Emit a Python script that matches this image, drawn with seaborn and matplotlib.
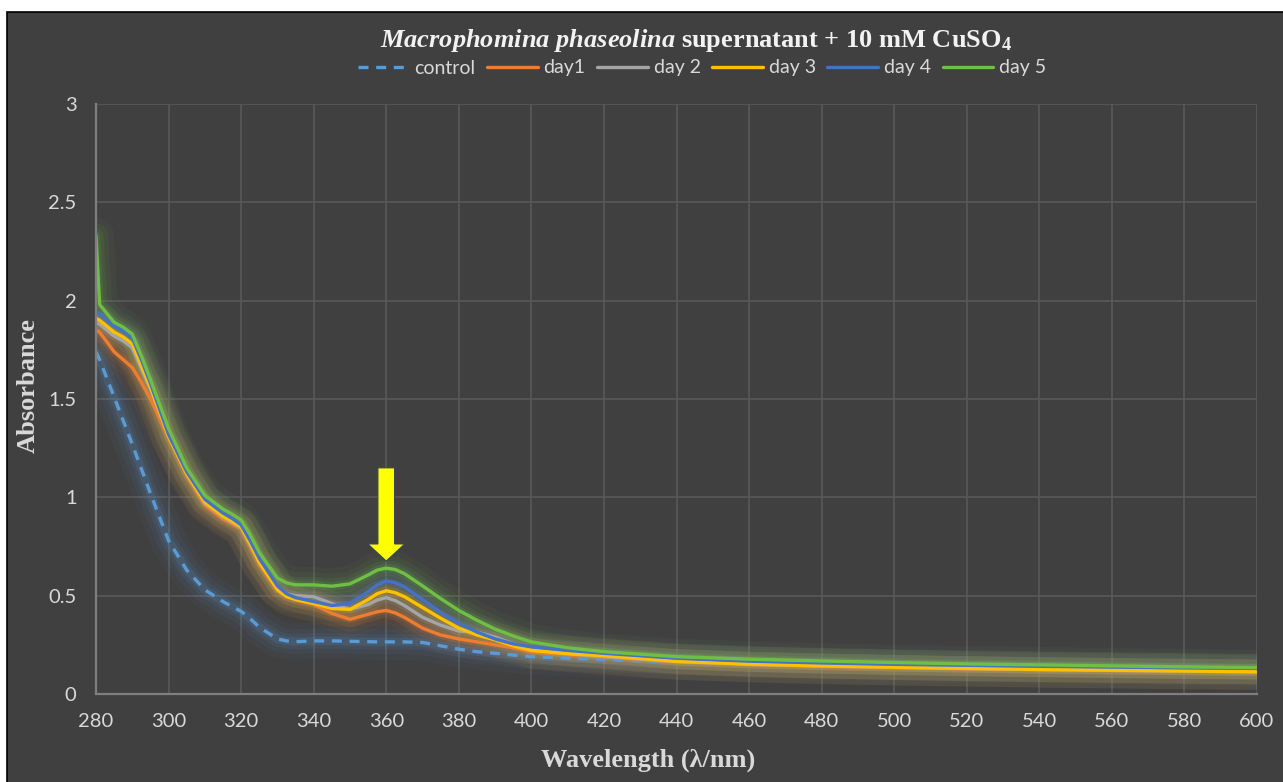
import numpy as np
import pandas as pd
import matplotlib
matplotlib.use("Agg")
import matplotlib.pyplot as plt
import seaborn as sns
from matplotlib.patches import Rectangle, FancyArrow
from matplotlib.ticker import FuncFormatter

# ---------------- data ----------------
wavelength = [280, 281, 285, 287.5, 290, 292.5, 295, 300, 305, 310, 315, 317.5, 320, 322.5,
              325, 330, 332.5, 335, 340, 345, 350, 355, 357.5, 360, 362.5, 365, 370, 375,
              380, 385, 390, 395, 400, 410, 420, 440, 460, 480, 500, 520, 540, 560, 580, 600]

control = [1.74, 1.70, 1.51, 1.39, 1.27, 1.145, 1.02, 0.78, 0.63, 0.53, 0.47, 0.445, 0.42, 0.383,
           0.34, 0.28, 0.27, 0.266, 0.27, 0.27, 0.268, 0.266, 0.265, 0.265, 0.265, 0.265, 0.262, 0.245,
           0.228, 0.215, 0.207, 0.198, 0.19, 0.183, 0.175, 0.162, 0.152, 0.143, 0.136, 0.13, 0.125, 0.12, 0.116, 0.112]
day1 = [1.85, 1.84, 1.74, 1.70, 1.66, 1.585, 1.50, 1.30, 1.11, 0.96, 0.89, 0.866, 0.84, 0.752,
        0.66, 0.53, 0.498, 0.48, 0.455, 0.41, 0.38, 0.405, 0.418, 0.425, 0.412, 0.39, 0.335, 0.30,
        0.28, 0.265, 0.25, 0.235, 0.215, 0.20, 0.188, 0.163, 0.149, 0.14, 0.134, 0.128, 0.123, 0.119, 0.115, 0.112]
day2 = [1.89, 1.88, 1.82, 1.795, 1.76, 1.655, 1.55, 1.31, 1.12, 0.97, 0.90, 0.873, 0.845, 0.76,
        0.67, 0.535, 0.51, 0.50, 0.495, 0.46, 0.43, 0.455, 0.478, 0.49, 0.475, 0.45, 0.39, 0.35,
        0.32, 0.315, 0.29, 0.255, 0.225, 0.205, 0.19, 0.165, 0.151, 0.142, 0.135, 0.129, 0.124, 0.12, 0.116, 0.113]
day3 = [1.91, 1.90, 1.84, 1.815, 1.78, 1.67, 1.56, 1.31, 1.12, 0.975, 0.905, 0.878, 0.85, 0.765,
        0.67, 0.53, 0.495, 0.48, 0.46, 0.435, 0.43, 0.48, 0.51, 0.525, 0.515, 0.495, 0.44, 0.385,
        0.335, 0.30, 0.275, 0.245, 0.222, 0.205, 0.195, 0.166, 0.152, 0.143, 0.136, 0.13, 0.125, 0.121, 0.117, 0.113]
day4 = [1.94, 1.93, 1.87, 1.845, 1.81, 1.70, 1.58, 1.32, 1.13, 0.99, 0.92, 0.893, 0.86, 0.78,
        0.69, 0.55, 0.51, 0.49, 0.47, 0.45, 0.46, 0.52, 0.555, 0.575, 0.565, 0.545, 0.48, 0.415,
        0.36, 0.315, 0.28, 0.255, 0.24, 0.222, 0.207, 0.182, 0.167, 0.158, 0.151, 0.146, 0.141, 0.137, 0.133, 0.13]
day5 = [2.33, 1.98, 1.89, 1.865, 1.83, 1.72, 1.60, 1.35, 1.15, 1.01, 0.94, 0.915, 0.885, 0.81,
        0.72, 0.59, 0.565, 0.555, 0.555, 0.548, 0.56, 0.605, 0.63, 0.64, 0.633, 0.612, 0.55, 0.485,
        0.425, 0.375, 0.33, 0.295, 0.265, 0.235, 0.215, 0.19, 0.177, 0.168, 0.16, 0.153, 0.148, 0.143, 0.138, 0.134]

series_names = ["control", "day1", "day 2", "day 3", "day 4", "day 5"]
series_values = [control, day1, day2, day3, day4, day5]
colors = ["#5B9BD5", "#ED7D31", "#A5A5A5", "#FFC000", "#4472C4", "#70BF45"]

x_ticks = list(range(280, 601, 20))
y_ticks = [0, 0.5, 1, 1.5, 2, 2.5, 3]

# ---------------- build long table ----------------
df = pd.DataFrame({
    "Wavelength": np.tile(wavelength, len(series_names)),
    "Absorbance": np.concatenate(series_values),
    "Series": np.repeat(series_names, len(wavelength)),
})
palette = dict(zip(series_names, colors))
dashes = {n: "" for n in series_names}
dashes["control"] = (3, 2.3)

BG = "#404040"
TXT = "#d9d9d9"
sns.set_theme(style="darkgrid", rc={
    "axes.facecolor": BG,
    "figure.facecolor": "white",
    "grid.color": "#595959",
    "grid.linewidth": 1.2,
    "axes.edgecolor": "#7f7f7f",
})
plt.rcParams["font.family"] = ["Lato", "DejaVu Sans"]
plt.rcParams["mathtext.fontset"] = "custom"
plt.rcParams["mathtext.rm"] = "Liberation Serif:bold"
plt.rcParams["mathtext.it"] = "Liberation Serif:italic:bold"
plt.rcParams["mathtext.bf"] = "Liberation Serif:bold"

W, H = 1283, 782
fig = plt.figure(figsize=(W / 100, H / 100), dpi=100)
# dark chart area with white margin on top/left
fig.add_artist(Rectangle((7 / W, -0.05), 1.2, 1 - 12 / H + 0.05, transform=fig.transFigure,
                         facecolor=BG, edgecolor="black", lw=1.2, zorder=-10))

ax = fig.add_axes([96 / W, 1 - 694 / H, (1257 - 96) / W, (694 - 104) / H])
ax.set_axisbelow(True)

# glow layers
for lw, a in [(26, 0.045), (18, 0.065), (11, 0.09), (6, 0.14)]:
    sns.lineplot(data=df, x="Wavelength", y="Absorbance", hue="Series", palette=palette,
                 linewidth=lw, alpha=a, legend=False, estimator=None, sort=False, ax=ax,
                 solid_capstyle="round", solid_joinstyle="round")

# main lines
sns.lineplot(data=df, x="Wavelength", y="Absorbance", hue="Series", style="Series",
             palette=palette, dashes=dashes, linewidth=2.4, estimator=None, sort=False, ax=ax,
             solid_joinstyle="round")

handles, labels = ax.get_legend_handles_labels()
pairs = [(h, l) for h, l in zip(handles, labels) if l in series_names]
ax.get_legend().remove()
for h, _ in pairs:
    h.set_linewidth(2.4)
fig.legend([p[0] for p in pairs], [p[1] for p in pairs], loc="center",
           bbox_to_anchor=(702 / W, 1 - 68 / H), ncol=6, frameon=False,
           fontsize=14, labelcolor=TXT, handlelength=2.6, handletextpad=0.3,
           columnspacing=0.6)

ax.set_xlim(280, 600)
ax.set_ylim(0, 3)
ax.set_xticks(x_ticks)
ax.set_yticks(y_ticks)
ax.yaxis.set_major_formatter(FuncFormatter(lambda v, p: f"{v:g}"))
ax.tick_params(axis="both", length=0, labelsize=14.5, labelcolor=TXT)
ax.tick_params(axis="x", pad=14)
ax.tick_params(axis="y", pad=14)
ax.set_xlabel("")
ax.set_ylabel("")
for s in ["top", "right"]:
    ax.spines[s].set_visible(False)
for s in ["left", "bottom"]:
    ax.spines[s].set_visible(True)
    ax.spines[s].set_color("#7f7f7f")
    ax.spines[s].set_linewidth(1.6)

# arrow marking the peak
ax.add_patch(FancyArrow(360, 1.15, 0, -(1.15 - 0.676), width=4.6, head_width=10.2,
                        head_length=0.087, length_includes_head=True,
                        facecolor="#FFFF00", edgecolor="#33415c", lw=0.8, zorder=6))

# texts
fig.text(696 / W, 1 - 40 / H,
         r"$\mathit{Macrophomina\ phaseolina}$ supernatant + 10 mM Cu$\mathrm{SO_4}$",
         ha="center", va="center", color="#f2f2f2", fontsize=19,
         family="Liberation Serif", weight="bold")
fig.text(648 / W, 1 - 760 / H, "Wavelength (λ/nm)", ha="center", va="center",
         color=TXT, fontsize=19, family="Liberation Serif", weight="bold")
fig.text(28 / W, 1 - 386 / H, "Absorbance", ha="center", va="center", rotation=90,
         color=TXT, fontsize=19, family="Liberation Serif", weight="bold")

fig.savefig("out.png", dpi=100)
